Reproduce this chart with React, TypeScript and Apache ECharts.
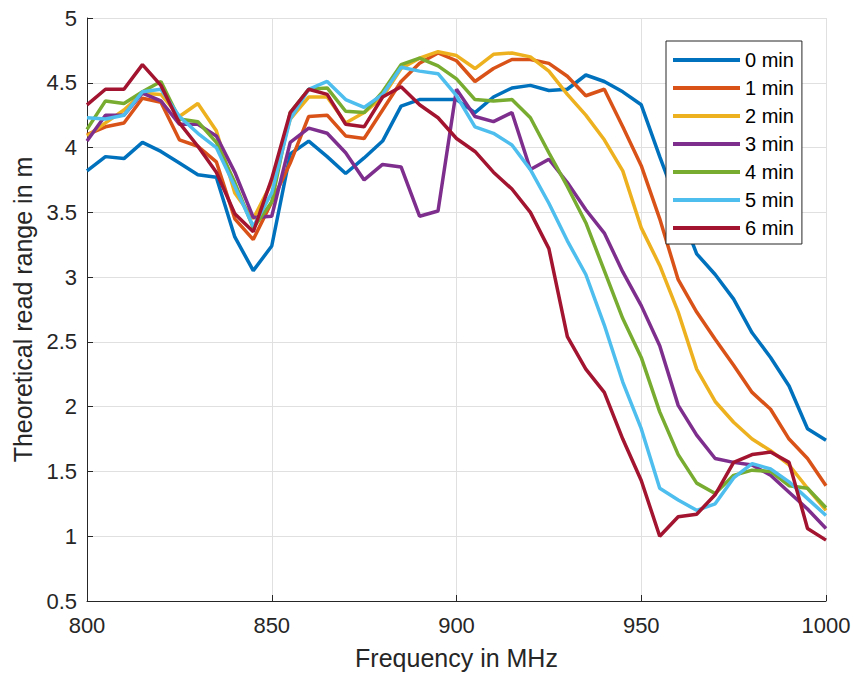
import React, { useEffect, useRef } from "react";
import * as echarts from "echarts";

const frequencies = [800, 805, 810, 815, 820, 825, 830, 835, 840, 845, 850, 855, 860, 865, 870, 875, 880, 885, 890, 895, 900, 905, 910, 915, 920, 925, 930, 935, 940, 945, 950, 955, 960, 965, 970, 975, 980, 985, 990, 995, 1000];

const min0 = [3.82, 3.93, 3.915, 4.04, 3.97, 3.88, 3.79, 3.77, 3.31, 3.05, 3.24, 3.95, 4.05, 3.93, 3.80, 3.92, 4.05, 4.32, 4.37, 4.37, 4.37, 4.27, 4.39, 4.46, 4.48, 4.44, 4.45, 4.56, 4.51, 4.43, 4.33, 3.93, 3.55, 3.18, 3.02, 2.83, 2.57, 2.38, 2.16, 1.83, 1.74];
const min1 = [4.10, 4.16, 4.19, 4.38, 4.35, 4.06, 4.01, 3.89, 3.45, 3.29, 3.58, 3.88, 4.24, 4.25, 4.09, 4.07, 4.29, 4.51, 4.65, 4.73, 4.67, 4.51, 4.61, 4.68, 4.68, 4.65, 4.55, 4.40, 4.45, 4.16, 3.86, 3.45, 2.98, 2.73, 2.52, 2.32, 2.11, 1.98, 1.75, 1.60, 1.39];
const min2 = [4.09, 4.19, 4.29, 4.42, 4.41, 4.24, 4.34, 4.13, 3.65, 3.45, 3.73, 4.22, 4.39, 4.39, 4.19, 4.27, 4.39, 4.61, 4.69, 4.74, 4.71, 4.61, 4.72, 4.73, 4.70, 4.59, 4.41, 4.25, 4.06, 3.82, 3.38, 3.09, 2.73, 2.29, 2.04, 1.88, 1.75, 1.66, 1.55, 1.37, 1.20];
const min3 = [4.05, 4.25, 4.25, 4.42, 4.36, 4.18, 4.18, 4.09, 3.81, 3.46, 3.47, 4.04, 4.15, 4.11, 3.96, 3.75, 3.87, 3.85, 3.47, 3.51, 4.45, 4.24, 4.20, 4.27, 3.83, 3.91, 3.73, 3.52, 3.34, 3.04, 2.78, 2.47, 2.01, 1.78, 1.60, 1.57, 1.55, 1.47, 1.34, 1.21, 1.06];
const min4 = [4.14, 4.36, 4.34, 4.43, 4.51, 4.22, 4.20, 4.04, 3.73, 3.38, 3.58, 4.27, 4.45, 4.46, 4.28, 4.27, 4.43, 4.64, 4.69, 4.63, 4.53, 4.37, 4.36, 4.37, 4.23, 3.96, 3.70, 3.42, 3.05, 2.68, 2.38, 1.96, 1.63, 1.41, 1.33, 1.47, 1.51, 1.50, 1.39, 1.37, 1.22];
const min5 = [4.23, 4.22, 4.25, 4.43, 4.45, 4.24, 4.11, 4.00, 3.70, 3.39, 3.65, 4.22, 4.45, 4.51, 4.37, 4.31, 4.41, 4.62, 4.59, 4.57, 4.40, 4.16, 4.11, 4.02, 3.83, 3.57, 3.28, 3.02, 2.63, 2.19, 1.83, 1.37, 1.28, 1.20, 1.25, 1.45, 1.56, 1.52, 1.42, 1.29, 1.16];
const min6 = [4.33, 4.45, 4.45, 4.64, 4.48, 4.19, 4.01, 3.81, 3.49, 3.35, 3.76, 4.27, 4.45, 4.41, 4.18, 4.16, 4.39, 4.47, 4.33, 4.23, 4.07, 3.97, 3.81, 3.68, 3.50, 3.22, 2.54, 2.29, 2.11, 1.75, 1.43, 1.00, 1.15, 1.17, 1.32, 1.57, 1.63, 1.65, 1.57, 1.06, 0.97];

const seriesNames = ["0 min", "1 min", "2 min", "3 min", "4 min", "5 min", "6 min"];
const seriesValues = [min0, min1, min2, min3, min4, min5, min6];
const colors = ["#0072BD", "#D95319", "#EDB120", "#7E2F8E", "#77AC30", "#4DBEEE", "#A2142F"];

const FONT = "'Liberation Sans', Arial, Helvetica, sans-serif";
const TEXT = "#262626";
const GRID = "#e0e0e0";

export default function App() {
  const ref = useRef<HTMLDivElement>(null);

  useEffect(() => {
    document.body.style.margin = "0";
    if (!ref.current) return;
    const chart = echarts.init(ref.current, undefined, { renderer: "svg" });
    chart.setOption({
      animation: false,
      backgroundColor: "#ffffff",
      textStyle: { fontFamily: FONT },
      grid: { left: 87, right: 28, top: 18, bottom: 74, containLabel: false },
      legend: {
        data: seriesNames,
        orient: "vertical",
        left: 666,
        top: 41,
        padding: [9, 8, 6, 7],
        itemWidth: 67,
        itemHeight: 4,
        itemGap: 8,
        icon: "rect",
        backgroundColor: "#ffffff",
        borderColor: TEXT,
        borderWidth: 1,
        borderRadius: 0,
        textStyle: { fontSize: 20, lineHeight: 20, color: "#000000", fontFamily: FONT },
      },
      xAxis: {
        type: "value",
        min: 800,
        max: 1000,
        interval: 50,
        name: "Frequency in MHz",
        nameLocation: "middle",
        nameGap: 44,
        nameTextStyle: { fontSize: 25, color: TEXT, fontFamily: FONT },
        axisLine: { show: true, onZero: false, lineStyle: { color: TEXT, width: 1 } },
        axisTick: { show: true, inside: true, length: 6, lineStyle: { color: TEXT } },
        axisLabel: { fontSize: 22, color: TEXT, margin: 13, fontFamily: FONT, formatter: (v: number) => String(v) },
        splitLine: { show: true, lineStyle: { color: GRID, width: 1 } },
      },
      yAxis: {
        type: "value",
        min: 0.5,
        max: 5,
        interval: 0.5,
        name: "Theoretical read range in m",
        nameLocation: "middle",
        nameGap: 48,
        nameTextStyle: { fontSize: 25, color: TEXT, fontFamily: FONT },
        axisLine: { show: true, lineStyle: { color: TEXT, width: 1 } },
        axisTick: { show: true, inside: true, length: 6, lineStyle: { color: TEXT } },
        axisLabel: { fontSize: 22, color: TEXT, margin: 10, fontFamily: FONT, formatter: (v: number) => String(v) },
        splitLine: { show: true, lineStyle: { color: GRID, width: 1 } },
      },
      series: seriesNames.map((name, i) => ({
        name,
        type: "line",
        data: frequencies.map((f, j) => [f, seriesValues[i][j]]),
        showSymbol: false,
        symbol: "none",
        color: colors[i],
        lineStyle: { color: colors[i], width: 3.5 },
        itemStyle: { color: colors[i] },
        z: 2 + i,
      })),
    });
    return () => chart.dispose();
  }, []);

  return <div ref={ref} style={{ width: 854, height: 675 }} />;
}
